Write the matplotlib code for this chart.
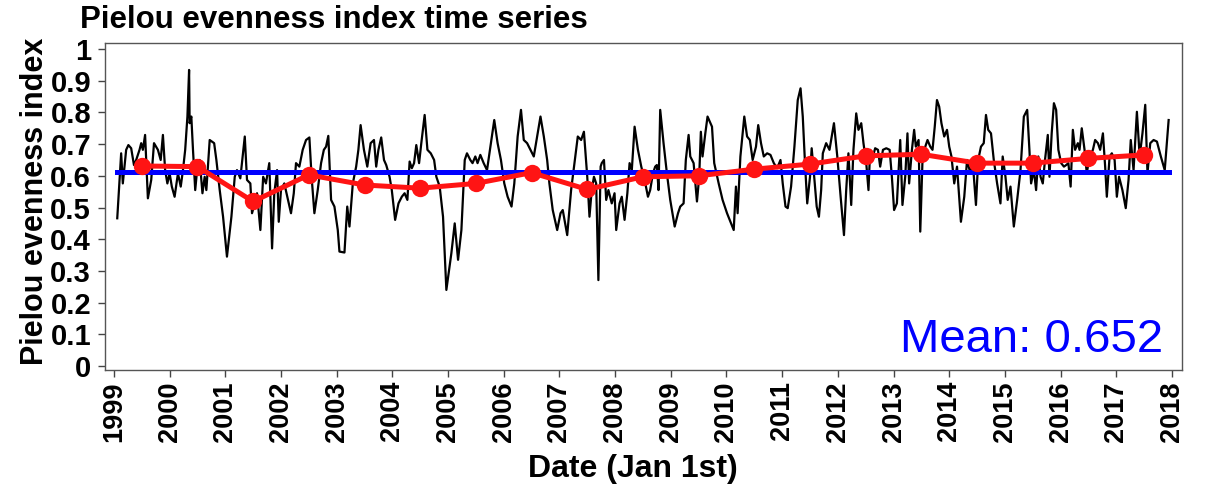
import matplotlib
matplotlib.use("Agg")
import matplotlib.pyplot as plt
import numpy as np

plt.rcParams['font.family'] = ['Liberation Sans', 'DejaVu Sans']

# Sampled Pielou evenness (decimal year, index value)
dates_1999_2002 = [1999.06, 1999.13, 1999.16, 1999.22, 1999.26, 1999.31, 1999.36, 1999.40, 1999.46, 1999.49,
                   1999.52, 1999.56, 1999.61, 1999.67, 1999.72, 1999.79, 1999.84, 1999.88, 1999.92, 1999.96,
                   2000.00, 2000.04, 2000.09, 2000.15, 2000.20, 2000.24, 2000.28, 2000.32, 2000.35, 2000.36,
                   2000.39, 2000.42, 2000.46, 2000.50, 2000.54, 2000.59, 2000.63, 2000.66, 2000.72, 2000.80,
                   2000.84, 2000.90, 2000.96, 2001.03, 2001.11, 2001.17, 2001.21, 2001.27, 2001.35, 2001.39,
                   2001.45, 2001.48, 2001.53, 2001.57, 2001.63, 2001.68, 2001.73, 2001.79, 2001.84, 2001.88,
                   2001.93, 2001.96, 2002.00, 2002.06]
values_1999_2002 = [0.466, 0.671, 0.576, 0.682, 0.697, 0.687, 0.634, 0.650, 0.682, 0.703,
                    0.682, 0.729, 0.529, 0.587, 0.703, 0.682, 0.650, 0.729, 0.618, 0.576,
                    0.608, 0.566, 0.534, 0.608, 0.566, 0.618, 0.682, 0.787, 0.934, 0.766,
                    0.787, 0.682, 0.555, 0.629, 0.650, 0.545, 0.597, 0.555, 0.713, 0.703,
                    0.650, 0.555, 0.471, 0.345, 0.471, 0.597, 0.618, 0.592, 0.724, 0.587,
                    0.576, 0.482, 0.513, 0.545, 0.429, 0.597, 0.576, 0.640, 0.371, 0.545,
                    0.618, 0.455, 0.555, 0.576]

dates_2002_2005 = [2002.18, 2002.23, 2002.27, 2002.33, 2002.39, 2002.45, 2002.51, 2002.55, 2002.60, 2002.66,
                   2002.72, 2002.77, 2002.81, 2002.85, 2002.90, 2002.96, 2003.02, 2003.05, 2003.14, 2003.19,
                   2003.23, 2003.29, 2003.35, 2003.39, 2003.43, 2003.49, 2003.55, 2003.61, 2003.67, 2003.71,
                   2003.75, 2003.80, 2003.85, 2003.89, 2003.95, 2003.99, 2004.05, 2004.11, 2004.17, 2004.22,
                   2004.27, 2004.31, 2004.35, 2004.39, 2004.43, 2004.48, 2004.52, 2004.58, 2004.63, 2004.69,
                   2004.75, 2004.79, 2004.85, 2004.91, 2004.97, 2005.06, 2005.12, 2005.18, 2005.24, 2005.30,
                   2005.34]
values_2002_2005 = [0.482, 0.545, 0.640, 0.629, 0.682, 0.713, 0.721, 0.597, 0.482, 0.555,
                    0.640, 0.682, 0.692, 0.726, 0.524, 0.503, 0.429, 0.361, 0.358, 0.503,
                    0.440, 0.576, 0.629, 0.682, 0.760, 0.682, 0.629, 0.703, 0.713, 0.629,
                    0.682, 0.721, 0.650, 0.634, 0.597, 0.555, 0.461, 0.513, 0.534, 0.545,
                    0.524, 0.645, 0.624, 0.640, 0.697, 0.640, 0.703, 0.792, 0.682, 0.671,
                    0.650, 0.597, 0.566, 0.471, 0.240, 0.356, 0.450, 0.335, 0.429, 0.650,
                    0.671]

dates_2005_2008 = [2005.40, 2005.44, 2005.49, 2005.53, 2005.58, 2005.64, 2005.70, 2005.76, 2005.83, 2005.89,
                   2005.95, 2006.01, 2006.07, 2006.14, 2006.19, 2006.25, 2006.31, 2006.36, 2006.42, 2006.48,
                   2006.54, 2006.60, 2006.66, 2006.72, 2006.78, 2006.82, 2006.88, 2006.96, 2007.02, 2007.06,
                   2007.14, 2007.21, 2007.27, 2007.33, 2007.39, 2007.44, 2007.50, 2007.54, 2007.58, 2007.62,
                   2007.66, 2007.70, 2007.74, 2007.76, 2007.80, 2007.84, 2007.88, 2007.94, 2007.99, 2008.02,
                   2008.08, 2008.12, 2008.17, 2008.22, 2008.26, 2008.30, 2008.35, 2008.41, 2008.47, 2008.53,
                   2008.59]
values_2005_2008 = [0.650, 0.640, 0.661, 0.640, 0.666, 0.640, 0.618, 0.692, 0.776, 0.703,
                    0.650, 0.576, 0.534, 0.503, 0.576, 0.724, 0.808, 0.713, 0.703, 0.682,
                    0.661, 0.724, 0.787, 0.724, 0.650, 0.576, 0.492, 0.429, 0.482, 0.492,
                    0.413, 0.555, 0.640, 0.724, 0.713, 0.739, 0.597, 0.471, 0.555, 0.597,
                    0.576, 0.271, 0.629, 0.640, 0.650, 0.524, 0.555, 0.513, 0.545, 0.429,
                    0.513, 0.534, 0.461, 0.545, 0.640, 0.618, 0.755, 0.682, 0.629, 0.587,
                    0.534]

dates_2008_2011 = [2008.63, 2008.68, 2008.72, 2008.75, 2008.78, 2008.81, 2008.87, 2008.93, 2008.99, 2009.07,
                   2009.13, 2009.17, 2009.23, 2009.27, 2009.32, 2009.35, 2009.41, 2009.47, 2009.51, 2009.54,
                   2009.57, 2009.62, 2009.66, 2009.74, 2009.78, 2009.86, 2009.93, 2010.01, 2010.13, 2010.17,
                   2010.20, 2010.25, 2010.32, 2010.37, 2010.42, 2010.47, 2010.53, 2010.57, 2010.62, 2010.67,
                   2010.73, 2010.79, 2010.85, 2010.91, 2010.97, 2011.01, 2011.06, 2011.10, 2011.16, 2011.22,
                   2011.28, 2011.33, 2011.37, 2011.41, 2011.45, 2011.50, 2011.53, 2011.57, 2011.62, 2011.66,
                   2011.70, 2011.73, 2011.79, 2011.85]
values_2008_2011 = [0.555, 0.608, 0.629, 0.634, 0.555, 0.808, 0.703, 0.608, 0.524, 0.440,
                    0.482, 0.503, 0.513, 0.650, 0.729, 0.661, 0.640, 0.519, 0.597, 0.739,
                    0.661, 0.734, 0.787, 0.755, 0.640, 0.576, 0.524, 0.482, 0.429, 0.566,
                    0.482, 0.661, 0.787, 0.724, 0.713, 0.650, 0.692, 0.760, 0.703, 0.661,
                    0.671, 0.666, 0.640, 0.624, 0.650, 0.576, 0.503, 0.498, 0.566, 0.692,
                    0.839, 0.876, 0.787, 0.640, 0.513, 0.597, 0.687, 0.608, 0.503, 0.471,
                    0.555, 0.671, 0.703, 0.682]

dates_2011_2015 = [2011.87, 2011.93, 2011.99, 2012.05, 2012.11, 2012.15, 2012.19, 2012.24, 2012.28, 2012.33,
                   2012.37, 2012.42, 2012.46, 2012.51, 2012.55, 2012.58, 2012.63, 2012.67, 2012.72, 2012.76,
                   2012.81, 2012.87, 2012.93, 2012.97, 2013.01, 2013.06, 2013.12, 2013.16, 2013.21, 2013.25,
                   2013.28, 2013.33, 2013.37, 2013.40, 2013.45, 2013.48, 2013.52, 2013.57, 2013.61, 2013.66,
                   2013.70, 2013.74, 2013.78, 2013.82, 2013.86, 2013.91, 2013.96, 2014.00, 2014.04, 2014.09,
                   2014.14, 2014.21, 2014.27, 2014.32, 2014.38, 2014.42, 2014.48, 2014.52, 2014.57, 2014.62,
                   2014.66, 2014.70, 2014.75, 2014.80, 2014.86, 2014.92, 2014.96, 2015.01, 2015.05]
values_2011_2015 = [0.703, 0.766, 0.661, 0.534, 0.413, 0.555, 0.671, 0.508, 0.682, 0.797,
                    0.745, 0.766, 0.703, 0.640, 0.555, 0.682, 0.661, 0.687, 0.682, 0.629,
                    0.682, 0.687, 0.682, 0.597, 0.492, 0.513, 0.713, 0.508, 0.597, 0.734,
                    0.576, 0.682, 0.745, 0.692, 0.713, 0.424, 0.650, 0.692, 0.713, 0.692,
                    0.682, 0.755, 0.839, 0.818, 0.766, 0.724, 0.745, 0.692, 0.661, 0.576,
                    0.629, 0.455, 0.534, 0.650, 0.608, 0.650, 0.508, 0.650, 0.692, 0.703,
                    0.792, 0.745, 0.734, 0.650, 0.576, 0.513, 0.661, 0.597, 0.524]

dates_2015_2018 = [2015.10, 2015.16, 2015.22, 2015.28, 2015.34, 2015.40, 2015.44, 2015.47, 2015.52, 2015.56,
                   2015.60, 2015.64, 2015.68, 2015.72, 2015.77, 2015.80, 2015.84, 2015.88, 2015.92, 2015.96,
                   2016.01, 2016.06, 2016.10, 2016.14, 2016.18, 2016.22, 2016.26, 2016.31, 2016.34, 2016.38,
                   2016.43, 2016.47, 2016.52, 2016.58, 2016.62, 2016.67, 2016.71, 2016.76, 2016.80, 2016.83,
                   2016.88, 2016.92, 2016.97, 2017.01, 2017.05, 2017.11, 2017.17, 2017.22, 2017.26, 2017.31,
                   2017.37, 2017.42, 2017.47, 2017.52, 2017.56, 2017.61, 2017.67, 2017.73, 2017.80, 2017.87,
                   2017.94]
values_2015_2018 = [0.566, 0.440, 0.524, 0.618, 0.787, 0.808, 0.682, 0.576, 0.618, 0.555,
                    0.661, 0.597, 0.576, 0.650, 0.729, 0.597, 0.734, 0.829, 0.808, 0.682,
                    0.640, 0.629, 0.634, 0.640, 0.566, 0.745, 0.682, 0.703, 0.682, 0.750,
                    0.682, 0.608, 0.661, 0.682, 0.713, 0.703, 0.682, 0.734, 0.629, 0.534,
                    0.661, 0.671, 0.650, 0.534, 0.597, 0.555, 0.498, 0.587, 0.713, 0.618,
                    0.802, 0.661, 0.734, 0.824, 0.608, 0.703, 0.713, 0.708, 0.661, 0.618,
                    0.776]

# Annual means, plotted at mid-year
years = list(range(1999, 2018))
annual_mean = [0.631, 0.629, 0.519, 0.603, 0.571, 0.561, 0.576, 0.610, 0.557, 0.597,
               0.600, 0.621, 0.637, 0.663, 0.668, 0.640, 0.640, 0.655, 0.666]

overall_level = 0.612
mean_label = "Mean: 0.652"

year_ticks = list(range(1999, 2019))
value_ticks = [0, 0.1, 0.2, 0.3, 0.4, 0.5, 0.6, 0.7, 0.8, 0.9, 1]
value_tick_labels = ["0", "0.1", "0.2", "0.3", "0.4", "0.5", "0.6", "0.7", "0.8", "0.9", "1"]

dates = np.concatenate([dates_1999_2002, dates_2002_2005, dates_2005_2008,
                        dates_2008_2011, dates_2011_2015, dates_2015_2018])
values = np.concatenate([values_1999_2002, values_2002_2005, values_2005_2008,
                         values_2008_2011, values_2011_2015, values_2015_2018])
mid_year = np.array(years) + 0.5

W, H = 1206, 488
fig = plt.figure(figsize=(W / 100, H / 100), dpi=100)
ax = fig.add_axes([105 / W, 1 - 370 / H, (1182 - 105) / W, (370 - 43) / H])

ax.plot(dates, values, color="black", lw=1.6, zorder=2)
ax.plot([dates[0], dates[-1]], [overall_level, overall_level], color="#0000ff", lw=3.6, zorder=3)
ax.plot(mid_year, annual_mean, color="#ff1414", lw=3.6, marker="o", markersize=12.5,
        markeredgewidth=0, zorder=4)

ax.set_xlim(1998.84, 2018.18)
ax.set_ylim(-0.0126, 1.019)

ax.set_xticks(year_ticks)
ax.set_xticklabels([str(y) for y in year_ticks], rotation=90, fontsize=19.5, fontweight="bold")
ax.set_yticks(value_ticks)
ax.set_yticklabels(value_tick_labels, fontsize=21, fontweight="bold")
ax.tick_params(axis="both", direction="out", length=5, width=1, color="#444444", pad=3)
ax.tick_params(axis="y", pad=5)
for s in ax.spines.values():
    s.set_color("#555555")
    s.set_linewidth(1.0)

fig.text(80 / W, 1 - 5 / H, "Pielou evenness index time series", fontsize=22.5,
         fontweight="bold", ha="left", va="top")
fig.text(35 / W, 1 - 201 / H, "Pielou evenness index", fontsize=22, fontweight="bold",
         rotation=90, ha="center", va="center")
fig.text(633 / W, 1 - 469 / H, "Date (Jan 1st)", fontsize=23, fontweight="bold",
         ha="center", va="center")
fig.text(1163 / W, 1 - 352 / H, mean_label, fontsize=34, color="#0000ff",
         ha="right", va="baseline")

fig.savefig("out.png", dpi=100)
